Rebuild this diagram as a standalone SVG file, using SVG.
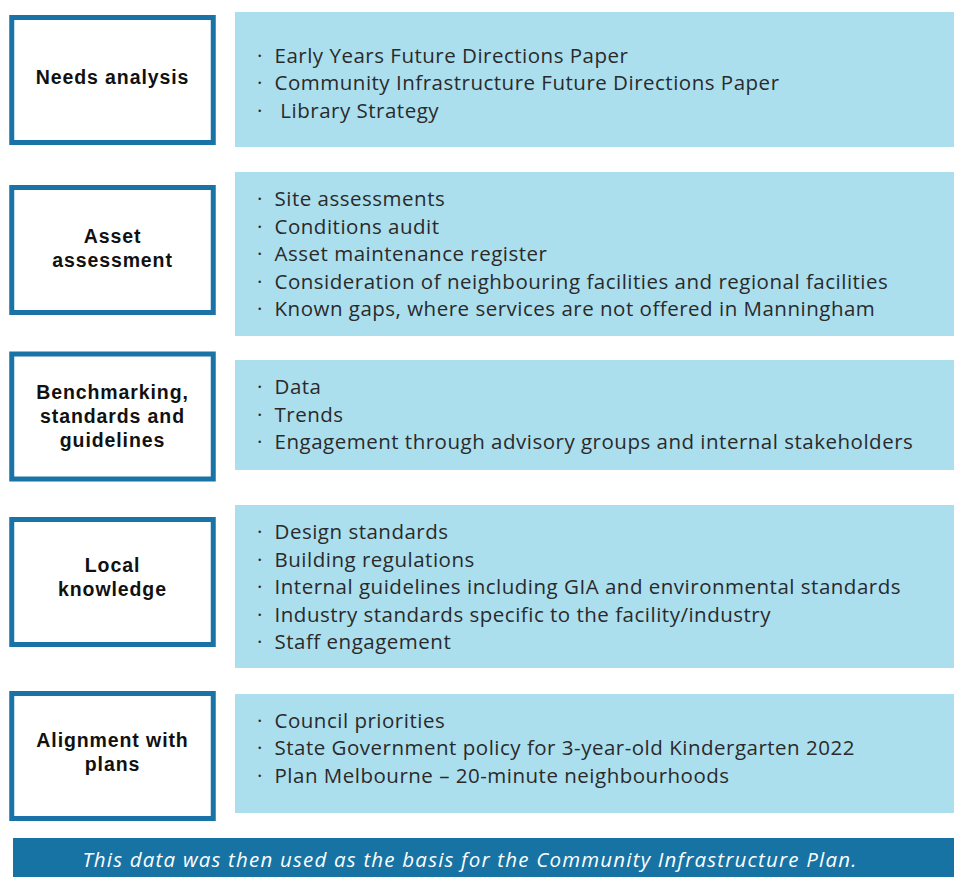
<svg xmlns="http://www.w3.org/2000/svg" width="954" height="877" viewBox="0 0 954 877">
<style>
.box{fill:#ffffff;stroke:#1a73a6;stroke-width:5}
.panel{fill:#acdfee}
.lbl{font-family:"Liberation Sans","Open Sans",sans-serif;font-weight:700;font-size:19.5px;letter-spacing:0.9px;fill:#111;text-anchor:middle}
.item{font-family:"Open Sans","Liberation Sans",sans-serif;font-size:20.5px;letter-spacing:0.5px;fill:#2a2a2a}
.foot{font-family:"Open Sans","Liberation Sans",sans-serif;font-style:italic;font-size:20.5px;letter-spacing:1.2px;fill:#ffffff;text-anchor:middle}
</style>
<rect width="954" height="877" fill="#ffffff"/>
<g id="row1">
<rect class="box" x="11.75" y="17.5" width="201.5" height="125"/>
<text class="lbl" x="112.5" y="84">Needs analysis</text>
<rect class="panel" x="235" y="12" width="719" height="135"/>
<text class="item" x="257" y="63" xml:space="preserve">·  Early Years Future Directions Paper</text>
<text class="item" x="257" y="90" xml:space="preserve">·  Community Infrastructure Future Directions Paper</text>
<text class="item" x="257" y="118" xml:space="preserve">·   Library Strategy</text>
</g>
<g id="row2">
<rect class="box" x="11.75" y="187.5" width="201.5" height="125"/>
<text class="lbl" x="112.5" y="243">Asset</text>
<text class="lbl" x="112.5" y="267">assessment</text>
<rect class="panel" x="235" y="172" width="719" height="164"/>
<text class="item" x="257" y="206" xml:space="preserve">·  Site assessments</text>
<text class="item" x="257" y="234" xml:space="preserve">·  Conditions audit</text>
<text class="item" x="257" y="261" xml:space="preserve">·  Asset maintenance register</text>
<text class="item" x="257" y="289" xml:space="preserve">·  Consideration of neighbouring facilities and regional facilities</text>
<text class="item" x="257" y="316" xml:space="preserve">·  Known gaps, where services are not offered in Manningham</text>
</g>
<g id="row3">
<rect class="box" x="11.75" y="354" width="201.5" height="125"/>
<text class="lbl" x="112.5" y="399">Benchmarking,</text>
<text class="lbl" x="112.5" y="423">standards and</text>
<text class="lbl" x="112.5" y="447">guidelines</text>
<rect class="panel" x="235" y="360" width="719" height="110"/>
<text class="item" x="257" y="394" xml:space="preserve">·  Data</text>
<text class="item" x="257" y="422" xml:space="preserve">·  Trends</text>
<text class="item" x="257" y="449" xml:space="preserve">·  Engagement through advisory groups and internal stakeholders</text>
</g>
<g id="row4">
<rect class="box" x="11.75" y="519.5" width="201.5" height="125"/>
<text class="lbl" x="112.5" y="572">Local</text>
<text class="lbl" x="112.5" y="596">knowledge</text>
<rect class="panel" x="235" y="505" width="719" height="163"/>
<text class="item" x="257" y="539" xml:space="preserve">·  Design standards</text>
<text class="item" x="257" y="567" xml:space="preserve">·  Building regulations</text>
<text class="item" x="257" y="594" xml:space="preserve">·  Internal guidelines including GIA and environmental standards</text>
<text class="item" x="257" y="622" xml:space="preserve">·  Industry standards specific to the facility/industry</text>
<text class="item" x="257" y="649" xml:space="preserve">·  Staff engagement</text>
</g>
<g id="row5">
<rect class="box" x="11.75" y="693.5" width="201.5" height="125"/>
<text class="lbl" x="112.5" y="747">Alignment with</text>
<text class="lbl" x="112.5" y="771">plans</text>
<rect class="panel" x="235" y="694" width="719" height="119"/>
<text class="item" x="257" y="728" xml:space="preserve">·  Council priorities</text>
<text class="item" x="257" y="755" xml:space="preserve">·  State Government policy for 3-year-old Kindergarten 2022</text>
<text class="item" x="257" y="783" xml:space="preserve">·  Plan Melbourne – 20-minute neighbourhoods</text>
</g>
<g id="footer">
<rect x="13" y="838" width="941" height="39" fill="#1673a4"/>
<text class="foot" x="470" y="867">This data was then used as the basis for the Community Infrastructure Plan.</text>
</g>
<g id="connectors"/>
</svg>
